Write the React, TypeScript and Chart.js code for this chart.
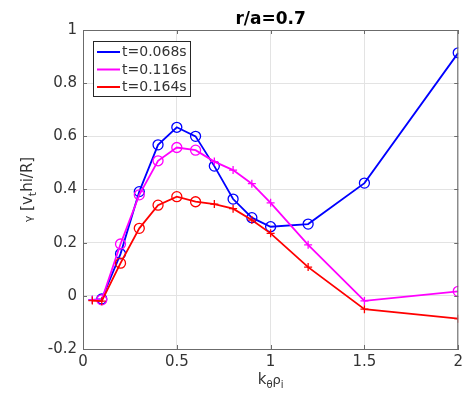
import React, { useEffect, useRef } from 'react';
import { Chart, registerables } from 'chart.js';

Chart.register(...registerables);

const kThetaRho = [0.05, 0.1, 0.2, 0.3, 0.4, 0.5, 0.6, 0.7, 0.8, 0.9, 1.0, 1.2, 1.5, 2.0];
const gamma068 = [-0.015, -0.012, 0.158, 0.392, 0.568, 0.634, 0.6, 0.488, 0.364, 0.294, 0.26, 0.27, 0.424, 0.914];
const gamma116 = [-0.015, -0.015, 0.195, 0.38, 0.508, 0.558, 0.548, 0.505, 0.473, 0.422, 0.35, 0.192, -0.019, 0.017];
const gamma164 = [-0.018, -0.02, 0.123, 0.254, 0.341, 0.373, 0.354, 0.345, 0.328, 0.285, 0.235, 0.108, -0.05, -0.086];
const marks068 = ['cross', 'circle', 'circle', 'circle', 'circle', 'circle', 'circle', 'circle', 'circle', 'circle', 'circle', 'circle', 'circle', 'circle'];
const marks116 = ['cross', 'circle', 'circle', 'circle', 'circle', 'circle', 'circle', 'cross', 'cross', 'cross', 'cross', 'cross', 'cross', 'circle'];
const marks164 = ['cross', 'cross', 'circle', 'circle', 'circle', 'circle', 'circle', 'cross', 'cross', 'cross', 'cross', 'cross', 'cross', 'cross'];
const seriesLabels = ['t=0.068s', 't=0.116s', 't=0.164s'];
const seriesColors = ['#0000ff', '#ff00ff', '#ff0000'];
const xTicks = [0, 0.5, 1, 1.5, 2];
const yTicks = [-0.2, 0, 0.2, 0.4, 0.6, 0.8, 1];
const chartTitle = 'r/a=0.7';

const FONT = '"DejaVu Sans", sans-serif';
const AXIS_COLOR = '#6b6b6b';
const TEXT_COLOR = '#333333';

type Part = { t: string; size: number; dy: number };

function drawParts(ctx: CanvasRenderingContext2D, parts: Part[], cx: number, baseline: number) {
  let total = 0;
  const widths = parts.map((p) => {
    ctx.font = `${p.size}px ${FONT}`;
    const w = ctx.measureText(p.t).width;
    total += w;
    return w;
  });
  let x = cx - total / 2;
  ctx.textAlign = 'left';
  ctx.textBaseline = 'alphabetic';
  parts.forEach((p, i) => {
    ctx.font = `${p.size}px ${FONT}`;
    ctx.fillText(p.t, x, baseline + p.dy);
    x += widths[i];
  });
}

const decorPlugin = {
  id: 'decor',
  afterDatasetsDraw(chart: any) {
    const ctx: CanvasRenderingContext2D = chart.ctx;
    const { left, right, top, bottom } = chart.chartArea;
    const xs = chart.scales.x;
    const ys = chart.scales.y;
    ctx.save();
    ctx.strokeStyle = AXIS_COLOR;
    ctx.lineWidth = 1;
    ctx.beginPath();
    ctx.moveTo(left, top + 0.5);
    ctx.lineTo(right, top + 0.5);
    ctx.moveTo(right - 0.5, top);
    ctx.lineTo(right - 0.5, bottom);
    const tl = 4;
    xTicks.forEach((v) => {
      const px = Math.round(xs.getPixelForValue(v)) + 0.5;
      ctx.moveTo(px, bottom);
      ctx.lineTo(px, bottom - tl);
      ctx.moveTo(px, top);
      ctx.lineTo(px, top + tl);
    });
    yTicks.forEach((v) => {
      const py = Math.round(ys.getPixelForValue(v)) + 0.5;
      ctx.moveTo(left, py);
      ctx.lineTo(left + tl, py);
      ctx.moveTo(right, py);
      ctx.lineTo(right - tl, py);
    });
    ctx.stroke();
    ctx.restore();
  },
  afterDraw(chart: any) {
    const ctx: CanvasRenderingContext2D = chart.ctx;
    const { left, right, top, bottom } = chart.chartArea;
    ctx.save();
    // title
    ctx.fillStyle = '#000000';
    ctx.font = `bold 17px ${FONT}`;
    ctx.textAlign = 'center';
    ctx.textBaseline = 'alphabetic';
    ctx.fillText(chartTitle, (left + right) / 2, 23.5);

    // x label
    ctx.fillStyle = TEXT_COLOR;
    drawParts(
      ctx,
      [
        { t: 'k', size: 15, dy: 0 },
        { t: 'θ', size: 10, dy: 4 },
        { t: 'ρ', size: 13, dy: 0 },
        { t: 'i', size: 10, dy: 4 },
      ],
      (left + right) / 2,
      384
    );

    // y label (rotated)
    ctx.save();
    ctx.translate(32, (top + bottom) / 2);
    ctx.rotate(-Math.PI / 2);
    drawParts(
      ctx,
      [
        { t: 'γ', size: 11, dy: 0 },
        { t: ' [v', size: 15, dy: 0 },
        { t: 't', size: 11, dy: 4 },
        { t: 'hi/R]', size: 15, dy: 0 },
      ],
      0,
      0
    );
    ctx.restore();

    // legend
    const lx = 93;
    const ly = 41;
    const lw = 97;
    const lh = 55;
    ctx.fillStyle = '#ffffff';
    ctx.fillRect(lx, ly, lw, lh);
    ctx.strokeStyle = '#262626';
    ctx.lineWidth = 1;
    ctx.strokeRect(lx + 0.5, ly + 0.5, lw, lh);
    const rows = [52, 69.5, 87];
    seriesLabels.forEach((lab, i) => {
      ctx.strokeStyle = seriesColors[i];
      ctx.lineWidth = 2;
      ctx.beginPath();
      ctx.moveTo(97, rows[i]);
      ctx.lineTo(120, rows[i]);
      ctx.stroke();
      ctx.fillStyle = TEXT_COLOR;
      ctx.font = `14px ${FONT}`;
      ctx.textAlign = 'left';
      ctx.textBaseline = 'middle';
      ctx.fillText(lab, 122, rows[i] + 0.5);
    });
    ctx.restore();
  },
};

export default function App() {
  const ref = useRef<HTMLCanvasElement | null>(null);
  useEffect(() => {
    if (!ref.current) return;
    const mk = (data: number[], marks: string[], i: number, order: number) => ({
      label: seriesLabels[i],
      data: kThetaRho.map((x, j) => ({ x, y: data[j] })),
      borderColor: seriesColors[i],
      backgroundColor: seriesColors[i],
      borderWidth: 1.8,
      pointStyle: marks,
      pointRadius: marks.map((m) => (m === 'circle' ? 5 : 4)),
      pointBorderWidth: 1.3,
      pointBorderColor: seriesColors[i],
      pointBackgroundColor: 'rgba(0,0,0,0)',
      tension: 0,
      order,
    });
    const chart = new Chart(ref.current, {
      type: 'line',
      data: {
        datasets: [mk(gamma068, marks068, 0, 3), mk(gamma116, marks116, 1, 2), mk(gamma164, marks164, 2, 1)] as any,
      },
      options: {
        animation: false,
        responsive: false,
        layout: { padding: { top: 30, right: 8, left: 0, bottom: 0 } },
        plugins: { legend: { display: false }, title: { display: false }, tooltip: { enabled: false } },
        scales: {
          x: {
            type: 'linear',
            min: 0,
            max: 2,
            afterFit: (s: any) => {
              s.height = 51;
            },
            afterBuildTicks: (s: any) => {
              s.ticks = xTicks.map((v) => ({ value: v }));
            },
            ticks: {
              padding: 4,
              color: TEXT_COLOR,
              font: { family: FONT, size: 15 },
              callback: (v: any) => String(Number(Number(v).toFixed(2))),
            },
            grid: { color: '#e3e3e3', drawTicks: false, lineWidth: 1 },
            border: { color: AXIS_COLOR, width: 1 },
          },
          y: {
            type: 'linear',
            min: -0.2,
            max: 1,
            afterFit: (s: any) => {
              s.width = 83;
            },
            afterBuildTicks: (s: any) => {
              s.ticks = yTicks.map((v) => ({ value: v }));
            },
            ticks: {
              padding: 6,
              color: TEXT_COLOR,
              font: { family: FONT, size: 15 },
              callback: (v: any) => String(Number(Number(v).toFixed(2))),
            },
            grid: { color: '#e3e3e3', drawTicks: false, lineWidth: 1 },
            border: { color: AXIS_COLOR, width: 1 },
          },
        },
      },
      plugins: [decorPlugin],
    });
    return () => chart.destroy();
  }, []);
  return (
    <div style={{ position: 'fixed', left: 0, top: 0, width: 467, height: 400, background: '#ffffff' }}>
      <canvas ref={ref} width={467} height={400} />
    </div>
  );
}
